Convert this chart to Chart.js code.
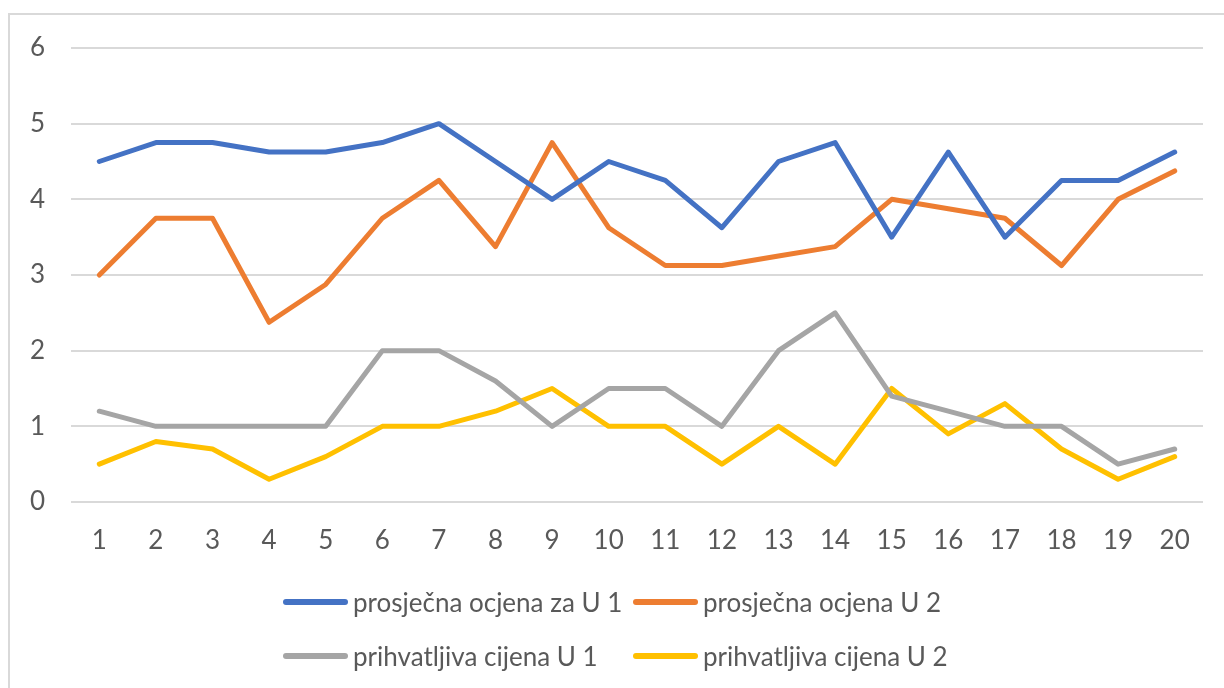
<!DOCTYPE html>
<html>
<head>
<meta charset="utf-8">
<script src="https://cdn.jsdelivr.net/npm/chart.js@4.4.1/dist/chart.umd.min.js"></script>
<style>
  html, body { margin: 0; padding: 0; background: #fff; }
  #wrap { position: relative; width: 1224px; height: 688px; overflow: hidden; }
  #frame { position: absolute; left: 8px; top: 13px; width: 1240px; height: 700px; border: 2px solid #d9d9d9; box-sizing: border-box; }
  #chart { position: absolute; left: 0; top: 0; }
  #legend { position: absolute; left: 283px; top: 587px; font-family: Lato, "Liberation Sans", sans-serif; font-size: 26px; color: #595959; }
  .item { position: absolute; white-space: nowrap; height: 30px; line-height: 30px; }
  .item span.sw { position: absolute; left: 0; top: 12px; width: 65px; height: 6px; border-radius: 3px; }
  .item span.tx { position: absolute; left: 70px; top: 0; }
</style>
</head>
<body>
<div id="wrap">
  <div id="frame"></div>
  <canvas id="chart" width="1224" height="688"></canvas>
  <div id="legend"></div>
</div>
<script>
// Podaci grafikona
const kategorije = ['1', '2', '3', '4', '5', '6', '7', '8', '9', '10', '11', '12', '13', '14', '15', '16', '17', '18', '19', '20'];
const ocjenaU1 = [4.5, 4.75, 4.75, 4.625, 4.625, 4.75, 5, 4.5, 4, 4.5, 4.25, 3.625, 4.5, 4.75, 3.5, 4.625, 3.5, 4.25, 4.25, 4.625];
const ocjenaU2 = [3, 3.75, 3.75, 2.375, 2.875, 3.75, 4.25, 3.375, 4.75, 3.625, 3.125, 3.125, 3.25, 3.375, 4, 3.875, 3.75, 3.125, 4, 4.375];
const cijenaU1 = [1.2, 1, 1, 1, 1, 2, 2, 1.6, 1, 1.5, 1.5, 1, 2, 2.5, 1.4, 1.2, 1, 1, 0.5, 0.7];
const cijenaU2 = [0.5, 0.8, 0.7, 0.3, 0.6, 1, 1, 1.2, 1.5, 1, 1, 0.5, 1, 0.5, 1.5, 0.9, 1.3, 0.7, 0.3, 0.6];
const yTicks = [0, 1, 2, 3, 4, 5, 6];

const tekst = '#595959';
const font = { family: 'Lato, "Liberation Sans", sans-serif', size: 26 };

function serija(label, data, color) {
    return {
        label: label,
        data: data,
        borderColor: color,
        backgroundColor: color,
        borderWidth: 5,
        pointRadius: 0,
        tension: 0,
        borderCapStyle: 'round',
        borderJoinStyle: 'round'
    };
}

const chart = new Chart(document.getElementById('chart'), {
    type: 'line',
    data: {
        labels: kategorije,
        datasets: [
            serija('prosječna ocjena za U 1', ocjenaU1, '#4472C4'),
            serija('prosječna ocjena U 2', ocjenaU2, '#ED7D31'),
            serija('prihvatljiva cijena U 1', cijenaU1, '#A5A5A5'),
            serija('prihvatljiva cijena U 2', cijenaU2, '#FFC000')
        ]
    },
    options: {
        responsive: false,
        animation: false,
        devicePixelRatio: 1,
        layout: { padding: { left: 0, top: 48, right: 21, bottom: 0 } },
        plugins: { legend: { display: false }, tooltip: { enabled: false } },
        scales: {
            x: {
                offset: true,
                grid: { display: false },
                border: { display: false },
                ticks: { color: tekst, font: font, padding: 15, maxRotation: 0, autoSkip: false },
                afterFit: s => { s.height = 186; }
            },
            y: {
                min: 0,
                max: 6,
                afterBuildTicks: s => { s.ticks = yTicks.map(v => ({ value: v })); },
                grid: { color: '#d9d9d9', lineWidth: 2, drawTicks: false },
                border: { display: false },
                ticks: { color: tekst, font: font, padding: 26 },
                afterFit: s => { s.width = 71; }
            }
        }
    }
});

// Legenda u dva reda, kao u originalu
const legend = document.getElementById('legend');
chart.data.datasets.forEach((ds, i) => {
    const el = document.createElement('div');
    el.className = 'item';
    el.style.left = (i % 2) * 350 + 'px';
    el.style.top = Math.floor(i / 2) * 54 + 'px';
    el.innerHTML = '<span class="sw" style="background:' + ds.borderColor + '"></span><span class="tx">' + ds.label + '</span>';
    legend.appendChild(el);
});
</script>
</body>
</html>
